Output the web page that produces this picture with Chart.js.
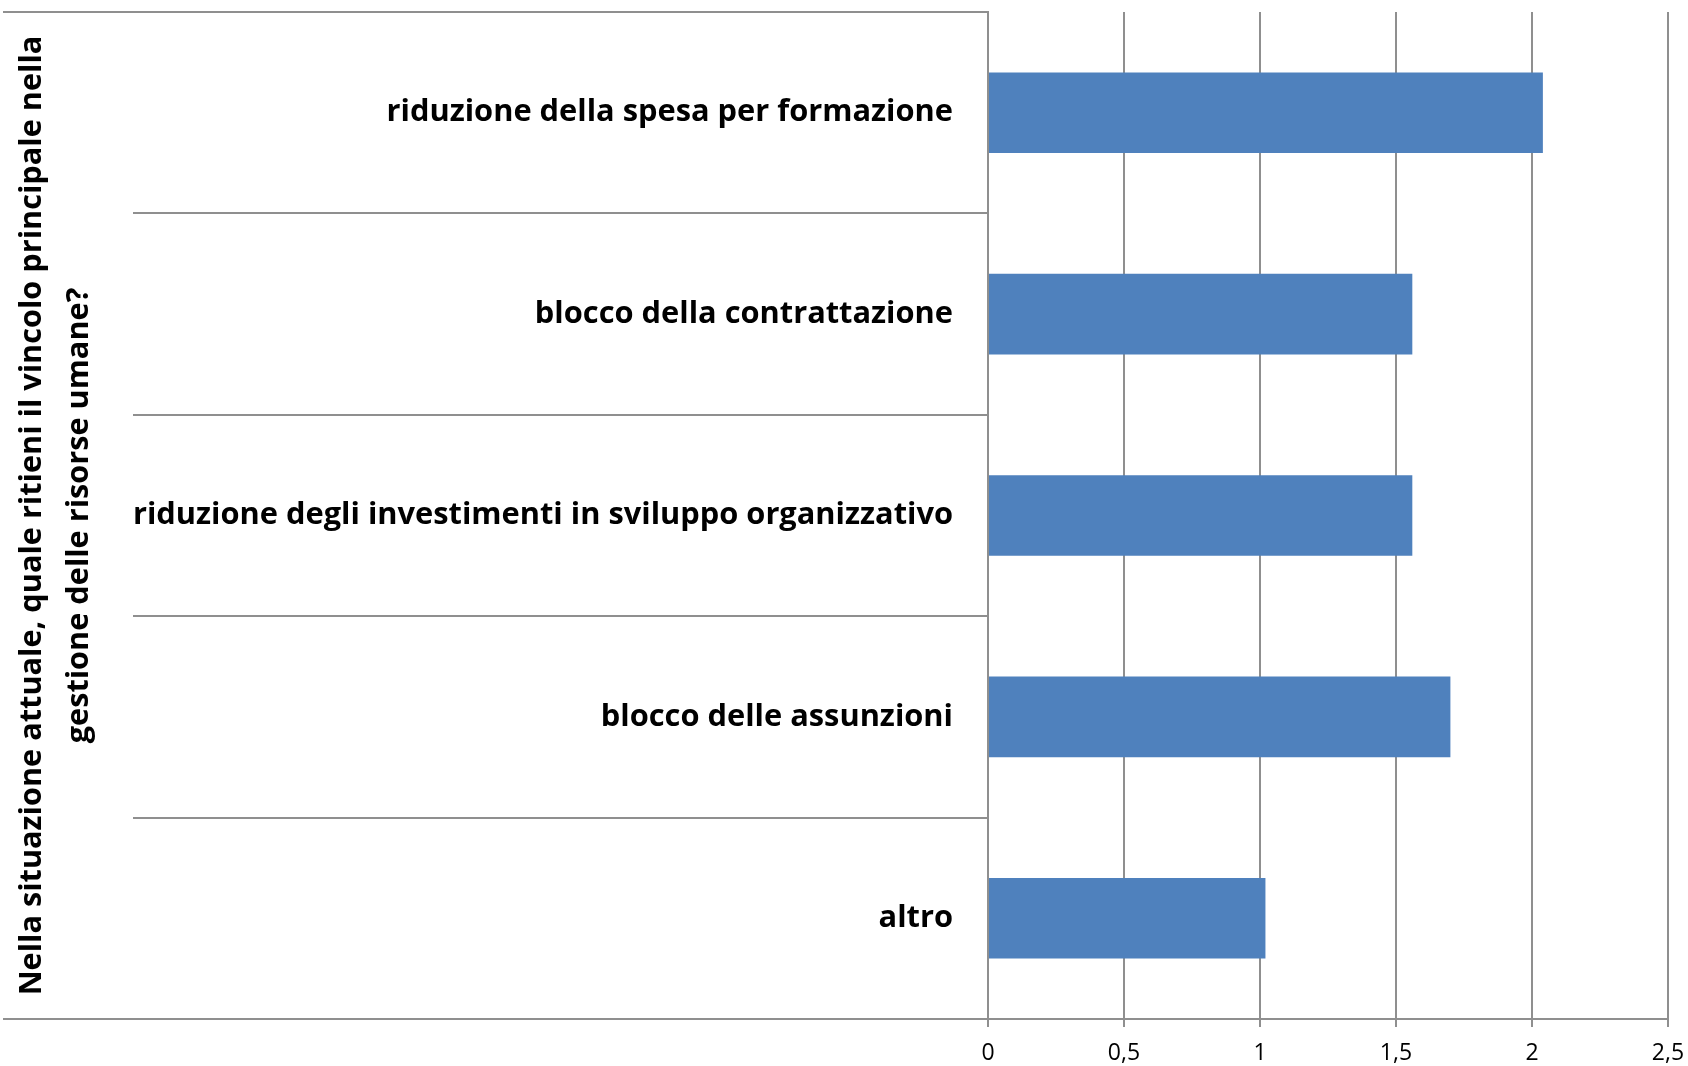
<!DOCTYPE html>
<html>
<head>
<meta charset="utf-8">
<script src="https://cdn.jsdelivr.net/npm/chart.js@4/dist/chart.umd.min.js"></script>
<style>
  html, body { margin: 0; padding: 0; background: #ffffff; }
  #wrap { width: 1688px; height: 1066px; }
</style>
</head>
<body>
<div id="wrap"><canvas id="c" width="1688" height="1066"></canvas></div>
<script>
// ---- data ----
const categories = [
  "riduzione della spesa per formazione",
  "blocco della contrattazione",
  "riduzione degli investimenti in sviluppo organizzativo",
  "blocco delle assunzioni",
  "altro"
];
const values = [2.04, 1.56, 1.56, 1.70, 1.02];
const xTicks = [0, 0.5, 1, 1.5, 2, 2.5];
const axisTitle = [
  "Nella situazione attuale, quale ritieni il vincolo principale nella",
  "gestione delle risorse umane?"
];

// ---- styles ----
const GRID = '#8f8f8f';
const BAR = '#4F81BD';
const FONT = '"Open Sans"';

// font size chosen so the text width matches the reference's text width
const mctx = document.createElement('canvas').getContext('2d');
function fitSize(text, weight, targetWidth) {
  mctx.font = weight + ' 100px ' + FONT;
  return Math.round(1000 * targetWidth / mctx.measureText(text).width) / 10;
}
const labelSize = fitSize(categories[2], 'bold', 819);
const titleSize = fitSize(axisTitle[0], 'bold', 961);

const edgeLines = {
  id: 'edgeLines',
  afterDraw(chart) {
    const { ctx, chartArea } = chart;
    const ys = chart.scales.y;
    ctx.save();
    ctx.strokeStyle = GRID;
    ctx.lineWidth = 2;
    ctx.beginPath();
    [chartArea.top, chartArea.bottom].forEach(py => {
      ctx.moveTo(ys.left + 3, py);
      ctx.lineTo(chartArea.left, py);
    });
    ctx.stroke();
    ctx.restore();
  }
};

new Chart(document.getElementById('c'), {
  type: 'bar',
  data: {
    labels: categories,
    datasets: [{
      data: values,
      backgroundColor: BAR,
      borderWidth: 0,
      barPercentage: 0.4,
      categoryPercentage: 1.0
    }]
  },
  options: {
    indexAxis: 'y',
    responsive: false,
    devicePixelRatio: 1,
    animation: false,
    layout: { padding: { top: 12, right: 20, left: 0, bottom: 0 } },
    plugins: { legend: { display: false }, tooltip: { enabled: false }, title: { display: false } },
    scales: {
      x: {
        type: 'linear',
        min: 0,
        max: 2.5,
        afterBuildTicks: s => { s.ticks = xTicks.map(v => ({ value: v })); },
        ticks: {
          font: { family: FONT, size: 23 },
          color: '#000',
          padding: 13,
          maxRotation: 0,
          callback: v => String(v).replace('.', ',')
        },
        grid: { color: GRID, lineWidth: 2, drawTicks: true, tickLength: 8 },
        border: { display: true, color: GRID, width: 2 },
        afterFit: s => { s.height = 47; s.paddingRight = 18; s.paddingLeft = 0; }
      },
      y: {
        type: 'category',
        offset: true,
        grid: { offset: true, drawOnChartArea: false, drawTicks: true, tickLength: 855, color: GRID, lineWidth: 2 },
        border: { display: true, color: GRID, width: 2 },
        ticks: {
          font: { family: FONT, size: labelSize, weight: 'bold' },
          color: '#000',
          padding: -820,
          autoSkip: false
        },
        title: {
          display: true,
          text: axisTitle,
          color: '#000',
          font: { family: FONT, size: titleSize, weight: 'bold', lineHeight: '47px' },
          padding: { top: 9, bottom: 0 }
        },
        afterFit: s => { s.width = 988; }
      }
    }
  },
  plugins: [edgeLines]
});
</script>
</body>
</html>
